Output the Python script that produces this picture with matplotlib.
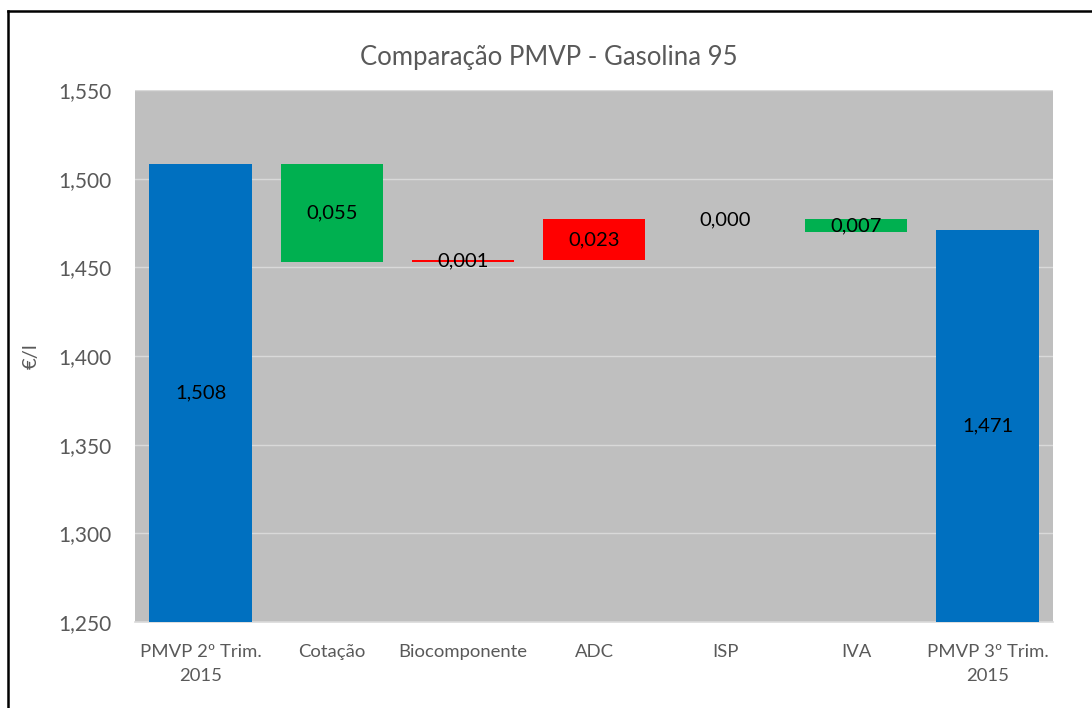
import numpy as np
import matplotlib.pyplot as plt
from matplotlib.lines import Line2D

plt.rcParams['font.family'] = ['Lato', 'DejaVu Sans']

categories = ['PMVP 2º Trim.\n2015', 'Cotação', 'Biocomponente', 'ADC', 'ISP', 'IVA',
              'PMVP 3º Trim.\n2015']
start_value = 1.508
end_value = 1.471
deltas = [-0.055, 0.001, 0.023, 0.000, -0.007]
labels = ['1,508', '0,055', '0,001', '0,023', '0,000', '0,007', '1,471']
y_ticks = [1.250, 1.300, 1.350, 1.400, 1.450, 1.500, 1.550]

BLUE = '#0070C0'
GREEN = '#00B050'
RED = '#FF0000'
GREY_TXT = '#595959'

# build waterfall bottoms/heights
bottoms = [y_ticks[0]]
heights = [start_value - y_ticks[0]]
colors = [BLUE]
level = start_value
for d in deltas:
    new = level + d
    bottoms.append(min(level, new))
    heights.append(abs(d))
    colors.append(GREEN if d < 0 else RED)
    level = new
bottoms.append(y_ticks[0])
heights.append(end_value - y_ticks[0])
colors.append(BLUE)

fig = plt.figure(figsize=(10.92, 7.08), dpi=100)
ax = fig.add_axes([135 / 1092, 86 / 708, 918 / 1092, 532 / 708])
ax.set_facecolor('#BFBFBF')

x = np.arange(len(categories))
ax.bar(x, heights, bottom=bottoms, width=0.78, color=colors, zorder=3)

for xi, b, h, lab in zip(x, bottoms, heights, labels):
    ax.text(xi, b + h / 2, lab, ha='center', va='center', fontsize=14.5,
            color='black', zorder=4)

ax.set_xlim(-0.5, len(categories) - 0.5)
ax.set_ylim(y_ticks[0], y_ticks[-1])
ax.set_yticks(y_ticks)
ax.set_yticklabels([f'{v:.3f}'.replace('.', ',') for v in y_ticks])
ax.set_xticks(x)
ax.set_xticklabels(categories, linespacing=1.6)
ax.tick_params(axis='both', length=0, colors=GREY_TXT)
ax.tick_params(axis='y', pad=17, labelsize=15)
ax.tick_params(axis='x', pad=16, labelsize=13.3)
ax.grid(axis='y', color='#D9D9D9', linewidth=1, zorder=1)

for s in ['top', 'right', 'left']:
    ax.spines[s].set_visible(False)
ax.spines['bottom'].set_color('#D9D9D9')
ax.spines['bottom'].set_linewidth(1.2)

ax.set_ylabel('€/l', color=GREY_TXT, fontsize=14.5)
ax.yaxis.set_label_coords(-(135 - 40) / 918, 0.5)
fig.text(549 / 1092, 1 - 57 / 708, 'Comparação PMVP - Gasolina 95', ha='center',
         va='center', fontsize=18.5, color=GREY_TXT)

# outer frame (top and left edges visible)
fig.add_artist(Line2D([8 / 1092, 1.0], [1 - 11 / 708, 1 - 11 / 708], color='black',
                      linewidth=1.8, transform=fig.transFigure))
fig.add_artist(Line2D([8 / 1092, 8 / 1092], [1 - 11 / 708, 0.0], color='black',
                      linewidth=1.8, transform=fig.transFigure))

fig.savefig('out.png', dpi=100)
